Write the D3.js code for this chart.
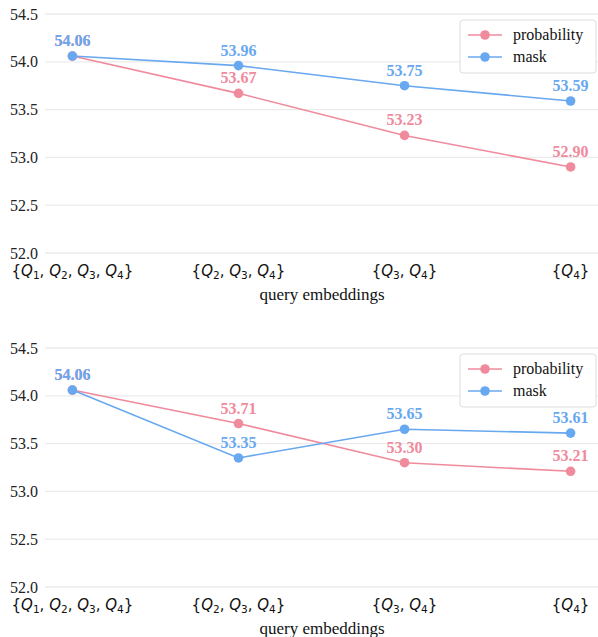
<!DOCTYPE html>
<html><head><meta charset="utf-8">
<script src="https://cdn.jsdelivr.net/npm/d3@7"></script>
<style>
body{margin:0;background:#fff;}
svg{display:block;}
.serif{font-family:'Times New Roman', 'Liberation Serif', serif;}
.math{font-family:'DejaVu Sans', sans-serif;}
</style></head>
<body>
<svg id="chart" width="598" height="637"></svg>
<script>
const categories = [["1","2","3","4"],["2","3","4"],["3","4"],["4"]];
const seriesNames = ["probability","mask"];
const top_probability = [54.06, 53.67, 53.23, 52.90];
const top_mask = [54.06, 53.96, 53.75, 53.59];
const bottom_probability = [54.06, 53.71, 53.30, 53.21];
const bottom_mask = [54.06, 53.35, 53.65, 53.61];
const yTicks = [52.0, 52.5, 53.0, 53.5, 54.0, 54.5];
const xTitle = "query embeddings";

const colors = {probability:"#f08a9d", mask:"#68a8f0"};
const svg = d3.select("#chart");

const x = d3.scaleLinear().domain([-0.165, 3.165]).range([45, 598]);

function panel(yTop, probVals, maskVals){
  const g = svg.append("g");
  const y = d3.scaleLinear().domain([52.0, 54.5]).range([yTop + 239, yTop]);
  g.selectAll("line.grid").data(yTicks).enter().append("line")
    .attr("x1", 45).attr("x2", 598)
    .attr("y1", d=>y(d)).attr("y2", d=>y(d))
    .attr("stroke", "#ebebeb").attr("stroke-width", 1.3);
  const yAxis = d3.axisLeft(y).tickValues(yTicks).tickFormat(d3.format(".1f")).tickSize(0).tickPadding(0);
  const ya = g.append("g").attr("transform", "translate(38,0)").call(yAxis);
  ya.attr("font-family", null).attr("font-size", null);
  ya.select(".domain").remove();
  ya.selectAll("text").attr("class", "serif")
    .style("font-size", "16px").attr("fill", "#222").attr("dy", "0.32em");
  const xl = g.selectAll("text.xl").data(categories).enter().append("text")
    .attr("class", "math")
    .attr("x", (d,i)=>x(i)).attr("y", yTop + 262)
    .attr("text-anchor", "middle")
    .style("font-size", "15px").attr("fill", "#111");
  xl.each(function(d){
    const t = d3.select(this);
    t.append("tspan").text("{");
    d.forEach((s, k)=>{
      t.append("tspan").style("font-style", "italic").text("Q");
      t.append("tspan").style("font-size", "10.5px").attr("dy", 3).text(s);
      t.append("tspan").attr("dy", -3).text(k < d.length-1 ? ", " : "}");
    });
  });
  g.append("text").attr("class", "serif").attr("x", 322).attr("y", yTop + 286)
    .attr("text-anchor", "middle")
    .style("font-size", "17px").attr("fill", "#111").text(xTitle);

  const line = d3.line().x((d,i)=>x(i)).y(d=>y(d));
  const series = [["probability", probVals], ["mask", maskVals]];
  series.forEach(([name, vals])=>{
    g.append("path").datum(vals).attr("d", line)
      .attr("fill", "none").attr("stroke", colors[name]).attr("stroke-width", 1.6);
    g.selectAll("circle." + name).data(vals).enter().append("circle")
      .attr("cx", (d,i)=>x(i)).attr("cy", d=>y(d)).attr("r", 4.8)
      .attr("fill", colors[name]);
  });
  series.forEach(([name, vals])=>{
    g.selectAll("text.lab" + name).data(vals).enter().append("text")
      .attr("class", "serif")
      .attr("x", (d,i)=>x(i)).attr("y", d=>y(d) - 10)
      .attr("text-anchor", "middle")
      .style("font-weight", "bold").style("font-size", "16px")
      .attr("fill", colors[name]).text(d=>d3.format(".2f")(d));
  });
  const lg = g.append("g").attr("transform", `translate(460,${yTop + 6})`);
  lg.append("rect").attr("x", 0).attr("y", 0).attr("width", 136).attr("height", 53)
    .attr("rx", 3).attr("fill", "#fff").attr("stroke", "#dddddd").attr("stroke-width", 1);
  seriesNames.forEach((n, i)=>{
    const cy = 15 + i * 22;
    lg.append("line").attr("x1", 8).attr("x2", 42).attr("y1", cy).attr("y2", cy)
      .attr("stroke", colors[n]).attr("stroke-width", 1.6);
    lg.append("circle").attr("cx", 25).attr("cy", cy).attr("r", 4.8).attr("fill", colors[n]);
    lg.append("text").attr("class", "serif").attr("x", 53).attr("y", cy).attr("dy", "0.32em")
      .style("font-size", "16px").attr("fill", "#111").text(n);
  });
}
panel(14, top_probability, top_mask);
panel(348, bottom_probability, bottom_mask);
</script>
</body></html>
